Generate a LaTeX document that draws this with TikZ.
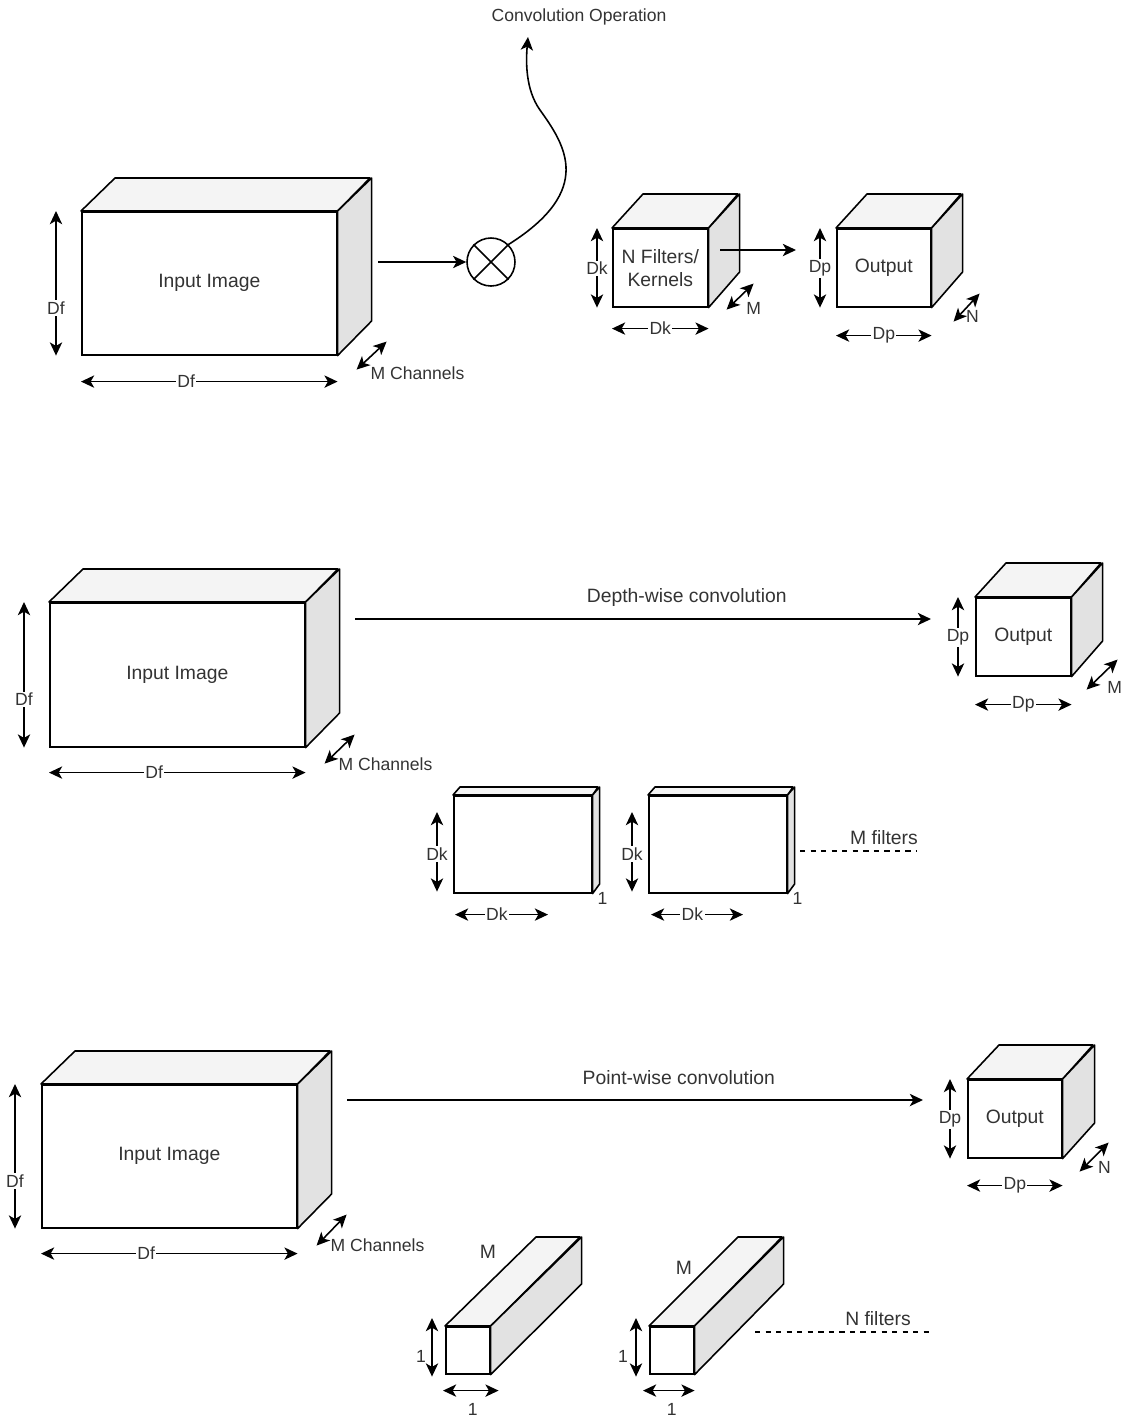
\documentclass[tikz,border=0pt]{standalone}
\usepackage{fontspec}
\setmainfont{Liberation Sans}
\usepackage{xcolor}
\usepackage{tikz}
\usetikzlibrary{arrows.meta, positioning, calc}
\definecolor{cbtext}{RGB}{51,51,51}
\definecolor{cbtop}{RGB}{244,244,244}
\definecolor{cbside}{RGB}{226,226,226}
\newcommand{\lblfont}{\fontsize{11}{13}\selectfont}
\newcommand{\smlfont}{\fontsize{10}{12}\selectfont}
% front face as a node, then top and side faces; #1 name, #2 front top-left, #3 width, #4 height, #5/#6 depth shift, #7 text
\newcommand{\cuboid}[7]{%
  \node[face,anchor=north west,minimum width=#3*0.02cm,minimum height=#4*0.02cm] (#1) at #2 {#7};
  \draw[facepath,fill=cbtop] (#1.north west) -- ++(#5,#6) -- ++(#3,0) -- (#1.north east) -- cycle;
  \draw[facepath,fill=cbside] (#1.north east) -- ++(#5,#6) -- ++(0,#4) -- (#1.south east) -- cycle;
}

\begin{document}
\begin{tikzpicture}[x=0.02cm,y=-0.02cm,
  every node/.style={text=cbtext,font=\lblfont,align=center},
  face/.style={draw,fill=white,line width=0.9pt,inner sep=0pt},
  facepath/.style={draw,line width=0.9pt,line join=round},
  dim/.style={{Stealth[length=7.5pt,width=7pt,inset=2pt]}-{Stealth[length=7.5pt,width=7pt,inset=2pt]},line width=0.9pt},
  flow/.style={-{Stealth[length=7.5pt,width=7pt,inset=2pt]},line width=0.9pt},
  dimlbl/.style={fill=white,inner sep=0.8pt,font=\smlfont}]
  \useasboundingbox (0,0) rectangle (1125,1418);

  % standard convolution
  \cuboid{in1}{(81,211)}{255}{143}{34}{-33}{Input Image}
  \draw[dim] ($(in1.north west)+(-25,0)$) -- node[dimlbl,pos=0.67] (df1v) {Df} ($(in1.south west)+(-25,0)$);
  \draw[dim] ($(in1.south west)+(0,26)$) -- node[dimlbl,pos=0.41] (df1h) {Df} ($(in1.south east)+(0,26)$);
  \draw[dim] ($(in1.south east)+(19,14)$) -- ($(in1.south east)+(49,-14)$);
  \node[font=\smlfont] (mch1) at ($(in1.south east)+(80,18)$) {M Channels};

  \node[circle,draw,line width=0.9pt,minimum size=0.96cm,inner sep=0pt] (conv) at (491,262) {};
  \draw[line width=0.9pt] (conv.45) -- (conv.225) (conv.135) -- (conv.315);
  \coordinate (a1) at (378,262);
  \draw[flow] (a1) -- (conv.west);
  \node[font=\smlfont] (convop) at (579,17) {Convolution Operation};
  \coordinate (convtip) at (528,37);
  \draw[flow] (conv.45) .. controls (595,190) and (565,145) .. (540,110)
    .. controls (525,89) and (526,60) .. (convtip);

  \cuboid{kern}{(612,228)}{95}{78}{31}{-34}{N Filters/\\Kernels}
  \draw[dim] ($(kern.north west)+(-15,0)$) -- node[dimlbl,pos=0.51] (dk1v) {Dk} ($(kern.south west)+(-15,0)$);
  \draw[dim] ($(kern.south west)+(0,21)$) -- node[dimlbl] (dk1h) {Dk} ($(kern.south east)+(0,21)$);
  \draw[dim] ($(kern.south east)+(18,2)$) -- ($(kern.south east)+(45,-24)$);
  \node[font=\smlfont] (km) at ($(kern.south east)+(45,1)$) {M};
  \coordinate (a2s) at (720,250);
  \coordinate (a2e) at (796,250);
  \draw[flow] (a2s) -- (a2e);

  \cuboid{out1}{(836,228)}{94}{78}{31}{-34}{Output}
  \draw[dim] ($(out1.north west)+(-16,0)$) -- node[dimlbl,pos=0.51] (dp1v) {Dp} ($(out1.south west)+(-16,0)$);
  \draw[dim] ($(out1.south west)+(0,28)$) -- node[dimlbl] (dp1h) {Dp} ($(out1.south east)+(0,28)$);
  \draw[dim] ($(out1.south east)+(22,14)$) -- ($(out1.south east)+(48,-14)$);
  \node[font=\smlfont] (on1) at ($(out1.south east)+(41,9)$) {N};

  % depth-wise convolution
  \cuboid{in2}{(49,602)}{255}{144}{34}{-33}{Input Image}
  \draw[dim] ($(in2.north west)+(-25,0)$) -- node[dimlbl,pos=0.67] (df2v) {Df} ($(in2.south west)+(-25,0)$);
  \draw[dim] ($(in2.south west)+(0,25)$) -- node[dimlbl,pos=0.41] (df2h) {Df} ($(in2.south east)+(0,25)$);
  \draw[dim] ($(in2.south east)+(19,16)$) -- ($(in2.south east)+(49,-13)$);
  \node[font=\smlfont] (mch2) at ($(in2.south east)+(80,17)$) {M Channels};

  \cuboid{out2}{(975,597)}{95}{78}{31}{-34}{Output}
  \coordinate (a3) at (355,619);
  \draw[flow] (a3) -- node[pos=0.576,yshift=0.44cm] (dwc) {Depth-wise convolution} (931,619);
  \draw[dim] ($(out2.north west)+(-17,0)$) -- node[dimlbl,pos=0.51] (dp2v) {Dp} ($(out2.south west)+(-17,0)$);
  \draw[dim] ($(out2.south west)+(0,28)$) -- node[dimlbl] (dp2h) {Dp} ($(out2.south east)+(0,28)$);
  \draw[dim] ($(out2.south east)+(15,13)$) -- ($(out2.south east)+(46,-17)$);
  \node[font=\smlfont] (om2) at ($(out2.south east)+(43,11)$) {M};

  \cuboid{dkf1}{(453,795)}{138}{97}{7}{-8}{}
  \draw[dim] ($(dkf1.north west)+(-16,17)$) -- node[dimlbl,pos=0.53] (dkf1v) {Dk} ($(dkf1.south west)+(-16,-2)$);
  \draw[dim] ($(dkf1.south west)+(2,21)$) -- node[dimlbl,pos=0.45] (dkf1h) {Dk} ($(dkf1.south west)+(95,21)$);
  \node[font=\smlfont] (one1) at ($(dkf1.south east)+(10,5)$) {1};
  \cuboid{dkf2}{(648,795)}{138}{97}{7}{-8}{}
  \draw[dim] ($(dkf2.north west)+(-16,17)$) -- node[dimlbl,pos=0.53] (dkf2v) {Dk} ($(dkf2.south west)+(-16,-2)$);
  \draw[dim] ($(dkf2.south west)+(3,21)$) -- node[dimlbl,pos=0.45] (dkf2h) {Dk} ($(dkf2.south west)+(95,21)$);
  \node[font=\smlfont] (one2) at ($(dkf2.south east)+(10,5)$) {1};
  \coordinate (mf1) at (800,851);
  \coordinate (mf2) at (916,851);
  \draw[dashed,line width=0.6pt] (mf1) -- (mf2);
  \node (mfl) at (884,838) {M filters};

  % point-wise convolution
  \cuboid{in3}{(41,1084)}{255}{143}{34}{-33}{Input Image}
  \draw[dim] ($(in3.north west)+(-26,0)$) -- node[dimlbl,pos=0.67] (df3v) {Df} ($(in3.south west)+(-26,0)$);
  \draw[dim] ($(in3.south west)+(0,25)$) -- node[dimlbl,pos=0.41] (df3h) {Df} ($(in3.south east)+(0,25)$);
  \draw[dim] ($(in3.south east)+(19,17)$) -- ($(in3.south east)+(49,-14)$);
  \node[font=\smlfont] (mch3) at ($(in3.south east)+(80,17)$) {M Channels};

  \cuboid{out3}{(967,1079)}{94}{78}{32}{-34}{Output}
  \coordinate (a4) at (347,1100);
  \draw[flow] (a4) -- node[pos=0.576,yshift=0.44cm] (pwc) {Point-wise convolution} (923,1100);
  \draw[dim] ($(out3.north west)+(-17,0)$) -- node[dimlbl,pos=0.51] (dp3v) {Dp} ($(out3.south west)+(-17,0)$);
  \draw[dim] ($(out3.south west)+(0,27)$) -- node[dimlbl] (dp3h) {Dp} ($(out3.south east)+(0,27)$);
  \draw[dim] ($(out3.south east)+(17,13)$) -- ($(out3.south east)+(46,-16)$);
  \node[font=\smlfont] (on3) at ($(out3.south east)+(42,9)$) {N};

  \cuboid{pw1}{(445,1326)}{44}{47}{91}{-89}{}
  \draw[dim] ($(pw1.north west)+(-13,-8)$) -- ($(pw1.south west)+(-13,2)$);
  \node[font=\smlfont] (pw1v) at ($(pw1.west)+(-24,6)$) {1};
  \draw[dim] ($(pw1.south west)+(-2,16)$) -- ($(pw1.south east)+(8,16)$);
  \node[font=\smlfont] (pw1h) at ($(pw1.south)+(5,35)$) {1};
  \node (pw1m) at (488,1252) {M};
  \cuboid{pw2}{(649,1326)}{44}{47}{89}{-89}{}
  \draw[dim] ($(pw2.north west)+(-13,-8)$) -- ($(pw2.south west)+(-13,2)$);
  \node[font=\smlfont] (pw2v) at ($(pw2.west)+(-26,6)$) {1};
  \draw[dim] ($(pw2.south west)+(-6,16)$) -- ($(pw2.south east)+(0,16)$);
  \node[font=\smlfont] (pw2h) at ($(pw2.south)+(0,35)$) {1};
  \node (pw2m) at (684,1268) {M};
  \coordinate (nf1) at (755,1332);
  \coordinate (nf2) at (933,1332);
  \draw[dashed,line width=0.6pt] (nf1) -- (nf2);
  \node (nfl) at (878,1319) {N filters};
\end{tikzpicture}
\end{document}
